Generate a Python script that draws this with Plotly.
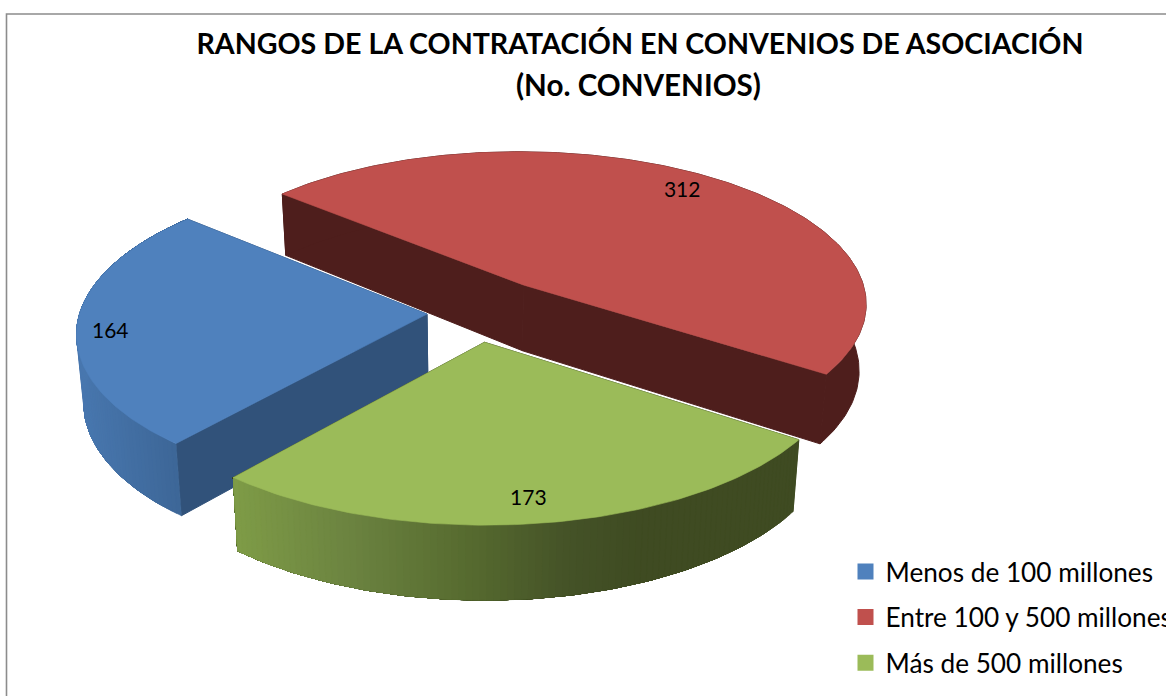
import math
import plotly.graph_objects as go

# ---- data ----
categories = ["Menos de 100 millones", "Entre 100 y 500 millones", "Más de 500 millones"]
values = [164, 312, 173]
title_lines = ["RANGOS DE LA CONTRATACIÓN EN CONVENIOS DE ASOCIACIÓN", "(No. CONVENIOS)"]

# ---- style ----
top_colors = ["#4F81BD", "#C0504D", "#9BBB59"]
inner_colors = ["#31527A", "#4E1E1C", "#3F4B22"]
wall_stops = [
    [(60, "#4A7AB3"), (185, "#3C6595")],
    [(0, "#4E1E1C"), (1166, "#4E1E1C")],
    [(230, "#7F9C47"), (350, "#6B8340"), (470, "#566A2F"), (570, "#445227"), (640, "#3F4B22"), (800, "#3F4B22")],
]
explode = [0.14, 0.23, 0.19]
label_radius = [0.905, 0.85, 0.88]
label_turn = [-3.0, -0.5, 0.5]
first_angle = 220.3
W, H = 1260, 696  # the page shows the left 1166 px, so the legend runs off the edge as in the reference
CX, CY, A, B, K, D = 475.5, 312.5, 347.0, 154.5, 0.115, 67.0


def project(X, Y, Z=0.0):
    s = 1.0 / (1.0 + K * Y)
    x = CX + A * X * s * (1 - 0.018 * Z)
    y = CY - B * Y * s + Z * D * (1 - 0.1 * Y)
    return x, y


def hexrgb(c):
    return [int(c[i:i + 2], 16) for i in (1, 3, 5)]


def grad(stops, x):
    if x <= stops[0][0]:
        return stops[0][1]
    for (x0, c0), (x1, c1) in zip(stops, stops[1:]):
        if x <= x1:
            t = (x - x0) / (x1 - x0)
            a, b = hexrgb(c0), hexrgb(c1)
            return "rgb(%d,%d,%d)" % tuple(round(a[i] + (b[i] - a[i]) * t) for i in range(3))
    return stops[-1][1]


def poly(pts, color, lw=0.6):
    xs = [p[0] for p in pts]
    ys = [p[1] for p in pts]
    return go.Scatter(x=xs + xs[:1], y=ys + ys[:1], mode="lines", fill="toself",
                      fillcolor=color, line=dict(color=color, width=lw),
                      showlegend=False, hoverinfo="skip")


total = sum(values)
spans = []
a0 = first_angle
for v in values:
    a1 = a0 + v / total * 360.0
    spans.append((a0, a1))
    a0 = a1

fig = go.Figure()
for i in (1, 0, 2):  # back to front
    a0, a1 = spans[i]
    mid = math.radians((a0 + a1) / 2)
    ox, oy = explode[i] * math.sin(mid), explode[i] * math.cos(mid)
    n = max(2, int(a1 - a0))
    angs = [math.radians(a0 + (a1 - a0) * j / n) for j in range(n + 1)]
    rim = [(ox + math.sin(t), oy + math.cos(t)) for t in angs]

    # inner walls
    for P in (rim[-1], rim[0]):
        fig.add_trace(poly([project(ox, oy), project(*P), project(*P, 1), project(ox, oy, 1)],
                           inner_colors[i], 1.0))
    # outer wall: each band reaches to the end of the wall, the next paints over it
    uniform = wall_stops[i][0][1] == wall_stops[i][-1][1]
    for j in range(1 if uniform else n):
        rest = rim[j:]
        pts = [project(*P) for P in rest] + [project(*P, 1) for P in reversed(rest)]
        mx = (project(*rim[j])[0] + project(*rim[j + 1])[0]) / 2
        fig.add_trace(poly(pts, grad(wall_stops[i], mx), 1.0 if uniform else 0.4))
    # top face
    fig.add_trace(poly([project(ox, oy)] + [project(*P) for P in rim], top_colors[i]))

label_x, label_y, labels = [], [], []
for i in range(3):
    a0, a1 = spans[i]
    mid = math.radians((a0 + a1) / 2 + label_turn[i])
    r = explode[i] + label_radius[i]
    x, y = project(r * math.sin(mid), r * math.cos(mid))
    label_x.append(x)
    label_y.append(y)
    labels.append(str(values[i]))

fig.add_trace(go.Scatter(x=label_x, y=label_y, text=labels, mode="text", textposition="middle center",
                         textfont=dict(family="Lato", size=21, color="#000000"),
                         showlegend=False, hoverinfo="skip"))

for i, name in enumerate(categories):
    fig.add_trace(go.Scatter(x=[None], y=[None], mode="markers", name=name, legendgroup=name,
                             marker=dict(symbol="square", size=17, color=top_colors[i])))

fig.update_layout(
    width=W, height=H, autosize=False,
    margin=dict(l=0, r=0, t=0, b=0),
    paper_bgcolor="white", plot_bgcolor="white",
    xaxis=dict(range=[0, W], visible=False, fixedrange=True),
    yaxis=dict(range=[H, 0], visible=False, fixedrange=True),
    title=dict(text="<b>" + title_lines[0] + "</b>", x=640 / W, xanchor="center",
               y=1 - 44 / H, yanchor="middle",
               font=dict(family="Lato", size=28.6, color="#000000")),
    annotations=[dict(text="<b>" + title_lines[1] + "</b>", x=638.5 / W, y=1 - 85 / H,
                      xref="paper", yref="paper", xanchor="center", yanchor="middle",
                      showarrow=False, font=dict(family="Lato", size=29.6, color="#000000"))],
    legend=dict(x=845.5 / W, xanchor="left", y=1 - 548 / H, yanchor="top",
                font=dict(family="Lato", size=26.2, color="#000000"),
                bgcolor="rgba(0,0,0,0)", tracegroupgap=8.5, itemwidth=30),
    shapes=[dict(type="rect", xref="paper", yref="paper", x0=6.5 / W, x1=1.2, y0=-0.2, y1=1 - 14 / H,
                 line=dict(color="#8C8C8C", width=1.6), fillcolor="rgba(0,0,0,0)")],
)
fig.write_html("out.html", config=dict(displayModeBar=False),
               post_script="document.body.style.margin='0';document.documentElement.style.overflow='hidden';")
